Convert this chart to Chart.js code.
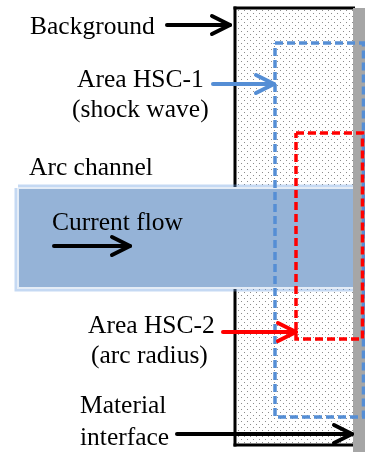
<!DOCTYPE html>
<html>
<head>
<meta charset="utf-8">
<script src="https://cdn.jsdelivr.net/npm/chart.js@4/dist/chart.umd.min.js"></script>
<style>
html,body{margin:0;padding:0;background:#fff;}
#wrap{width:365px;height:452px;position:relative;}
</style>
</head>
<body>
<div id="wrap"><canvas id="c" width="365" height="452"></canvas></div>
<script>
// ---- Data (diagram coordinates in a 365 x 452 frame) ----
const regionNames  = ['Background', 'Material', 'Arc channel', 'Area HSC-1', 'Area HSC-2'];
const regionLeft   = [235, 353, 18, 275, 296];
const regionTop    = [8, 8, 188, 43, 133];
const regionRight  = [353, 366, 356, 363.5, 362.5];
const regionBottom = [445, 453, 288, 417, 339];

const labelText = ['Background', 'Area HSC-1', '(shock wave)', 'Arc channel', 'Current flow', 'Area HSC-2', '(arc radius)', 'Material', 'interface'];
const labelX    = [30, 77, 72, 29, 52, 88, 91, 80, 80];
const labelY    = [34, 87, 117, 175, 230, 333, 363, 413, 445];

const arrowStartX = [167, 213, 54, 223, 177];
const arrowEndX   = [230, 274, 130, 296, 352];
const arrowY      = [25, 84, 246, 332, 434];
const arrowColor  = ['#000000', '#558ed5', '#000000', '#ff0000', '#000000'];

// ---- helpers ----
function boxPts(l, t, r, b) {
  return [{x: l, y: t}, {x: r, y: t}, {x: r, y: b}, {x: l, y: b}, {x: l, y: t}];
}
function rectPts(i) {
  return boxPts(regionLeft[i], regionTop[i], regionRight[i], regionBottom[i]);
}
function makeDots() {
  const c = document.createElement('canvas');
  c.width = 6; c.height = 6;
  const g = c.getContext('2d');
  g.fillStyle = '#fff'; g.fillRect(0, 0, 6, 6);
  g.fillStyle = '#8c8c8c';
  g.fillRect(1, 1, 1, 1);
  g.fillRect(4, 4, 1, 1);
  return document.getElementById('c').getContext('2d').createPattern(c, 'repeat');
}
const dots = makeDots();

const base = {showLine: true, pointRadius: 0, pointHoverRadius: 0, clip: false, tension: 0};
const noLine = {borderWidth: 0.0001, borderColor: 'rgba(255,255,255,0)'};
const datasets = [];
let ord = 100;
// background region: dotted fill
datasets.push(Object.assign({}, base, noLine, {label: 'bgfill', data: rectPts(0), backgroundColor: dots, fill: 'shape', order: ord--}));
// background border: top, left, bottom drawn as thin filled bands
const L = regionLeft[0], T = regionTop[0], R = regionRight[0], B = regionBottom[0], W = 1.5;
[boxPts(L - W, T - W, R + 2, T + W), boxPts(L - W, T - W, L + W, B + W), boxPts(L - W, B - W, R, B + W)].forEach((pts, k) => {
  datasets.push(Object.assign({}, base, noLine, {label: 'bgborder' + k, data: pts, backgroundColor: '#000', fill: 'shape', order: ord--}));
});
// arc channel glow + body
datasets.push(Object.assign({}, base, {label: 'glow', data: rectPts(2), borderColor: 'rgba(110,160,225,0.40)', borderWidth: 7, fill: false, order: ord--}));
datasets.push(Object.assign({}, base, {label: 'channel', data: rectPts(2), borderColor: '#e4ecf6', borderWidth: 2, backgroundColor: '#95b3d7', fill: 'shape', order: ord--}));
// material wall (gray)
datasets.push(Object.assign({}, base, noLine, {label: 'wall', data: rectPts(1), backgroundColor: '#a6a6a6', fill: 'shape', order: ord--}));
// HSC-1 dashed
datasets.push(Object.assign({}, base, {label: 'hsc1', data: rectPts(3), borderColor: '#558ed5', borderWidth: 3.5, borderDash: [8, 4], fill: false, order: ord--}));
// HSC-2 dashed
datasets.push(Object.assign({}, base, {label: 'hsc2', data: rectPts(4), borderColor: '#ff0000', borderWidth: 3.5, borderDash: [8, 4], fill: false, order: ord--}));
// arrows
const HL = 18, HH = 9;
for (let i = 0; i < arrowY.length; i++) {
  datasets.push(Object.assign({}, base, {label: 'arrow' + i, data: [{x: arrowStartX[i], y: arrowY[i]}, {x: arrowEndX[i] - 2, y: arrowY[i]}],
    borderColor: arrowColor[i], borderWidth: 4, borderCapStyle: 'round', fill: false, order: ord--}));
  datasets.push(Object.assign({}, base, {label: 'headA' + i, data: [{x: arrowEndX[i] - HL, y: arrowY[i] - HH}, {x: arrowEndX[i], y: arrowY[i]}],
    borderColor: arrowColor[i], borderWidth: 4, borderCapStyle: 'round', fill: false, order: ord--}));
  datasets.push(Object.assign({}, base, {label: 'headB' + i, data: [{x: arrowEndX[i], y: arrowY[i]}, {x: arrowEndX[i] - HL, y: arrowY[i] + HH}],
    borderColor: arrowColor[i], borderWidth: 4, borderCapStyle: 'round', fill: false, order: ord--}));
}

const labelPlugin = {
  id: 'labels',
  afterDatasetsDraw(chart) {
    const {ctx, scales} = chart;
    ctx.save();
    ctx.fillStyle = '#000';
    ctx.font = '25.5px "Liberation Serif", "Times New Roman", serif';
    ctx.textAlign = 'left';
    ctx.textBaseline = 'alphabetic';
    for (let i = 0; i < labelText.length; i++) {
      ctx.fillText(labelText[i], scales.x.getPixelForValue(labelX[i]), scales.y.getPixelForValue(labelY[i]));
    }
    ctx.restore();
  }
};

new Chart(document.getElementById('c'), {
  type: 'scatter',
  data: {datasets},
  options: {
    responsive: false,
    animation: false,
    events: [],
    layout: {padding: 0},
    plugins: {legend: {display: false}, tooltip: {enabled: false}},
    scales: {
      x: {type: 'linear', min: 0, max: 365, display: false},
      y: {type: 'linear', min: 0, max: 452, reverse: true, display: false}
    }
  },
  plugins: [labelPlugin]
});
</script>
</body>
</html>
